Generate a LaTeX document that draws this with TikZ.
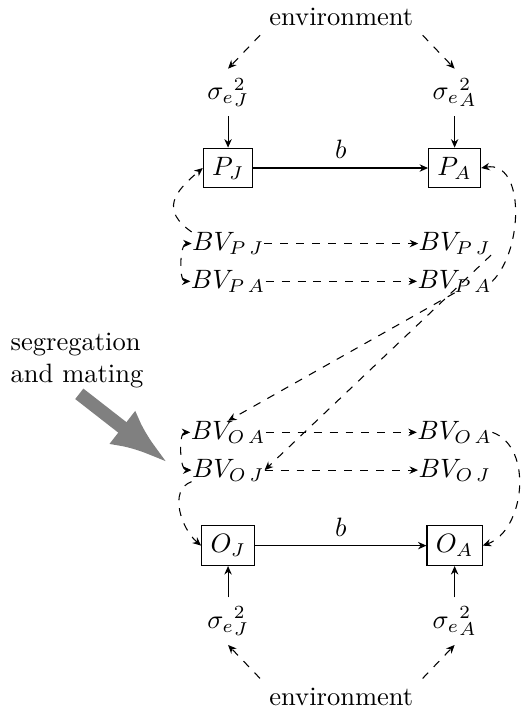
\documentclass[tikz,border=0pt]{standalone}
\usepackage{amsmath,amssymb}
\usepackage{xcolor}
\usepackage{tikz}
\usetikzlibrary{arrows.meta}
\tikzset{
  caja/.style={draw},
  vc/.style={inner sep=0pt},
  efecto/.style={-{Stealth[length=3.2pt,width=2.8pt]}},
  depende/.style={efecto,dashed},
  correl/.style={{Stealth[length=3.2pt,width=2.8pt]}-{Stealth[length=3.2pt,width=2.8pt]},dashed},
  grueso/.style={gray,line width=5pt,-{Latex[length=22pt,width=16pt]}}
}

\begin{document}
\begin{tikzpicture}
\useasboundingbox (-3.02,0.225) rectangle (3.88,-9.19);
\node (envT) at (1.5,0) {environment};
\node (sJt) at (0,-1) {$\sigma_{e}{}^2_J$};
\node (sAt) at (3,-1) {$\sigma_{e}{}^2_A$};
\node[caja] (pj) at (0,-2) {$P_J$};
\node[caja] (pa) at (3,-2) {$P_A$};
\node[vc] (bvpjL) at (0,-3) {$BV_{P\,J}$};
\node[vc] (bvpjR) at (3,-3) {$BV_{P\,J}$};
\node[vc] (bvpaL) at (0,-3.5) {$BV_{P\,A}$};
\node[vc] (bvpaR) at (3,-3.5) {$BV_{P\,A}$};
\node[vc] (bvoaL) at (0,-5.5) {$BV_{O\,A}$};
\node[vc] (bvoaR) at (3,-5.5) {$BV_{O\,A}$};
\node[vc] (bvojL) at (0,-6) {$BV_{O\,J}$};
\node[vc] (bvojR) at (3,-6) {$BV_{O\,J}$};
\node[caja] (oj) at (0,-7) {$O_J$};
\node[caja] (oa) at (3,-7) {$O_A$};
\node (sJb) at (0,-8) {$\sigma_{e}{}^2_J$};
\node (sAb) at (3,-8) {$\sigma_{e}{}^2_A$};
\node (envB) at (1.5,-9) {environment};
\node[align=left] (seg) at (-2,-4.55) {segregation\\and mating};
\coordinate (segA) at (-1.97,-4.99);
\coordinate (segB) at (-0.79,-5.91);

\draw[depende] (envT.south west) -- (sJt.north);
\draw[depende] (envT.south east) -- (sAt.north);
\draw[efecto] (sJt) -- (pj);
\draw[efecto] (sAt) -- (pa);
\draw[efecto] (pj) -- node[above] {$b$} (pa);
\draw[depende] (bvpjL.north west) to[out=145,in=220,looseness=1.5] (pj.west);
\draw[depende] (bvpaR.east) to[out=45,in=10] (pa.east);
\draw[correl] (bvpjL.west) to[out=180,in=180,looseness=0.8] (bvpaL.west);
\draw[depende] (bvpjL) -- (bvpjR);
\draw[depende] (bvpaL) -- (bvpaR);
\draw[depende] (bvpjR.south east) -- (bvojL.east);
\draw[depende] (bvpaR.south) -- (bvoaL.north);
\draw[correl] (bvoaL.west) to[out=180,in=180,looseness=0.8] (bvojL.west);
\draw[depende] (bvoaL) -- (bvoaR);
\draw[depende] (bvojL) -- (bvojR);
\draw[depende] (bvojL.south west) to[out=200,in=140] (oj.west);
\draw[depende] (bvoaR.east) to[out=-20,in=20] (oa.east);
\draw[efecto] (oj) -- node[above] {$b$} (oa);
\draw[efecto] (sJb) -- (oj);
\draw[efecto] (sAb) -- (oa);
\draw[depende] (envB.north west) -- (sJb.south);
\draw[depende] (envB.north east) -- (sAb.south);
\draw[grueso] (segA) -- (segB);
\end{tikzpicture}
\end{document}
